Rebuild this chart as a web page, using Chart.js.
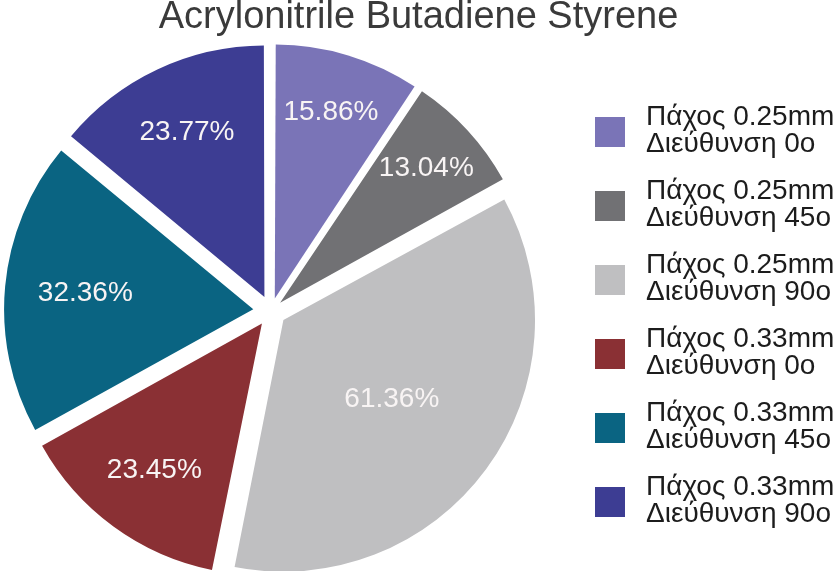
<!DOCTYPE html>
<html>
<head>
<meta charset="utf-8">
<script src="https://cdn.jsdelivr.net/npm/chart.js@4.4.1/dist/chart.umd.min.js"></script>
<style>
  html, body { margin: 0; padding: 0; background: #fff; }
  #wrap { width: 837px; height: 571px; }
</style>
</head>
<body>
<div id="wrap"><canvas id="pieChart" width="837" height="571"></canvas></div>
<script>
const chartTitle = "Acrylonitrile Butadiene Styrene";
const thickness = ["0.25mm","0.25mm","0.25mm","0.33mm","0.33mm","0.33mm"];
const direction = ["0o","45o","90o","0o","45o","90o"];
const values = [15.86, 13.04, 61.36, 23.45, 32.36, 23.77];
const colors = ["#7a74b7","#717174","#bfbfc1","#8a3034","#0a6482","#3d3d93"];

const labels = thickness.map((t, i) => ["Πάχος " + t, "Διεύθυνση " + direction[i]]);
const FONT = "'Liberation Sans', Arial, sans-serif";
const EXPLODE = 19;   // wanted pixel distance each slice is pulled out
const total = values.reduce((s, v) => s + v, 0);

// chart.js moves an arc by offset/4 * (2 - sin(angle)), so undo that
function sliceOffset(c) {
  const ang = values[c.dataIndex] / total * Math.PI * 2;
  return 4 * EXPLODE / (2 - Math.sin(Math.min(Math.PI, ang)));
}

// value labels inside the slices, smaller slices pushed further out
const sliceLabels = {
  id: "sliceLabels",
  afterDatasetsDraw(chart) {
    const ctx = chart.ctx;
    const meta = chart.getDatasetMeta(0);
    ctx.save();
    ctx.font = "28px " + FONT;
    ctx.fillStyle = "#f8f4f4";
    ctx.textAlign = "center";
    ctx.textBaseline = "middle";
    meta.data.forEach((arc, i) => {
      const p = arc.getProps(["x","y","startAngle","endAngle","outerRadius"], true);
      const mid = (p.startAngle + p.endAngle) / 2;
      const deg = (p.endAngle - p.startAngle) * 180 / Math.PI;
      const r = EXPLODE + p.outerRadius * (0.84 - 0.0024 * deg);
      ctx.fillText(values[i].toFixed(2) + "%", p.x + Math.cos(mid) * r, p.y + Math.sin(mid) * r);
    });
    ctx.restore();
  }
};

// title centred on the whole canvas + two-line legend on the right
const titleAndLegend = {
  id: "titleAndLegend",
  afterDraw(chart) {
    const ctx = chart.ctx;
    ctx.save();
    ctx.textBaseline = "alphabetic";
    ctx.font = "38px " + FONT;
    ctx.fillStyle = "#3a3a3a";
    ctx.textAlign = "center";
    ctx.fillText(chartTitle, chart.width / 2, 28);

    ctx.textAlign = "left";
    ctx.font = "28px " + FONT;
    labels.forEach((lines, i) => {
      const y = 125 + i * 74;
      ctx.fillStyle = colors[i];
      ctx.fillRect(595, y - 8, 30, 30);
      ctx.fillStyle = "#1c1c1c";
      ctx.fillText(lines[0], 646, y);
      ctx.fillText(lines[1], 646, y + 27);
    });
    ctx.restore();
  }
};

new Chart(document.getElementById("pieChart"), {
  type: "pie",
  data: {
    labels: labels,
    datasets: [{
      data: values,
      backgroundColor: colors,
      borderWidth: 0,
      offset: sliceOffset,
      radius: 248
    }]
  },
  options: {
    responsive: false,
    animation: false,
    layout: { padding: { left: 0, right: 295, top: 51, bottom: 0 } },
    plugins: {
      legend: { display: false },
      tooltip: { enabled: false },
      title: { display: false }
    }
  },
  plugins: [sliceLabels, titleAndLegend]
});
</script>
</body>
</html>
